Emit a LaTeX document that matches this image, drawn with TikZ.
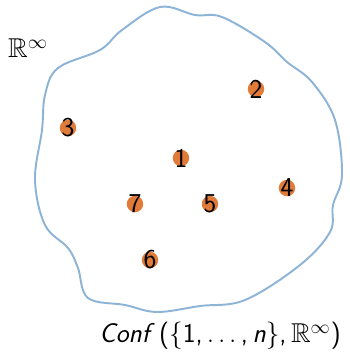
\documentclass[tikz,border=0pt]{standalone}
\usepackage{amsmath,amssymb}
\usepackage{tikz}
\usetikzlibrary{positioning}

\definecolor{dotorange}{HTML}{E07B3A}
\definecolor{blobblue}{HTML}{8DB3D6}

\begin{document}
\begin{tikzpicture}[
  x=0.02cm, y=-0.02cm,
  font=\fontsize{15.5}{18}\selectfont\sffamily,
  dot/.style={circle, fill=dotorange, minimum size=0.33cm, inner sep=0pt, label={center:#1}},
  blob/.style={draw=blobblue, line width=1.1pt}
]
\useasboundingbox (0,0) rectangle (350,360);

% the space
\draw[blob] plot[smooth cycle, tension=0.6] coordinates {
  (160,7) (195,15) (222,17) (265,42) (287,62) (312,82) (335,120) (342,175)
  (333,205) (330,232) (300,265) (245,300) (200,306) (157,312) (125,305)
  (88,298) (78,268) (68,248) (45,225) (35,180) (42,130) (45,95) (58,68)
  (100,50) (122,30)};

% points
\node[dot=1] (p1) at (181,158) {};
\node[dot=2] (p2) at (256,89) {};
\node[dot=3] (p3) at (68,128) {};
\node[dot=4] (p4) at (287,188) {};
\node[dot=5] (p5) at (210,204) {};
\node[dot=6] (p6) at (150,260) {};
\node[dot=7] (p7) at (135,204) {};

\node (space) at (28,48) {$\mathbb{R}^\infty$};
\node[anchor=east] (conf) at (347,336) {\textit{Conf}\,(\{1,\,$\ldots$\,,\,\textit{n}\},\,$\mathbb{R}^\infty$)};
\end{tikzpicture}
\end{document}
